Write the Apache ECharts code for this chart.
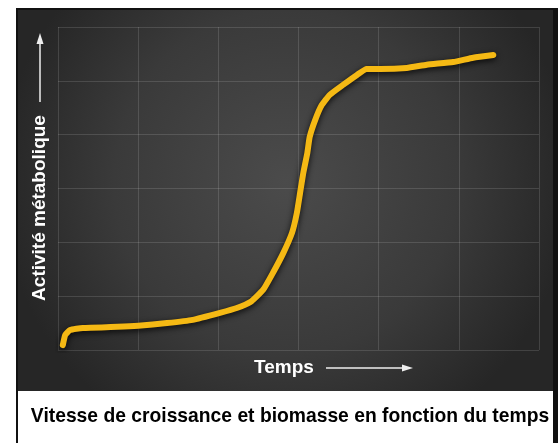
<!DOCTYPE html>
<html>
<head>
<meta charset="UTF-8">
<title>Vitesse de croissance</title>
<script src="https://cdn.jsdelivr.net/npm/echarts@6/dist/echarts.min.js"></script>
<style>
html, body { margin: 0; padding: 0; background: #fff; }
#chart { width: 558px; height: 443px; }
</style>
</head>
<body>
<div id="chart"></div>
<script>
// temps (unités de grille) et activité métabolique
var temps = [0.06, 0.09, 0.15, 0.31, 0.74, 1.0, 1.36, 1.68, 2.02, 2.23, 2.40, 2.56,
             2.68, 2.81, 2.92, 2.98, 3.02, 3.06, 3.11, 3.14, 3.21, 3.29, 3.39, 3.56,
             3.73, 3.85, 4.02, 4.35, 4.60, 4.93, 5.18, 5.43];
var activite = [0.09, 0.28, 0.37, 0.41, 0.43, 0.45, 0.50, 0.56, 0.69, 0.78, 0.89, 1.12,
                1.43, 1.80, 2.18, 2.55, 2.92, 3.29, 3.66, 3.96, 4.28, 4.55, 4.74, 4.93,
                5.11, 5.22, 5.22, 5.24, 5.30, 5.35, 5.43, 5.48];
var titre = 'Vitesse de croissance et biomasse en fonction du temps';
var labelX = 'Temps';
var labelY = 'Activité métabolique';

var points = temps.map(function (t, i) { return [t, activite[i]]; });

var chart = echarts.init(document.getElementById('chart'), null, { renderer: 'canvas' });

var gridLine = { show: true, lineStyle: { color: 'rgba(255,255,255,0.13)', width: 1 } };

chart.setOption({
    animation: false,
    textStyle: { fontFamily: 'Liberation Sans' },
    grid: { left: 58, top: 27, width: 481, height: 323 },
    xAxis: {
        type: 'value', min: 0, max: 6, interval: 1,
        axisLine: { show: false }, axisTick: { show: false }, axisLabel: { show: false },
        splitLine: gridLine
    },
    yAxis: {
        type: 'value', min: 0, max: 6, interval: 1,
        axisLine: { show: false }, axisTick: { show: false }, axisLabel: { show: false },
        splitLine: gridLine
    },
    graphic: [
        // cadre noir + fond sombre
        { type: 'rect', z: -10, shape: { x: 16, y: 8, width: 542, height: 435 },
          style: { fill: '#111' } },
        { type: 'rect', z: -9, shape: { x: 18, y: 10, width: 535, height: 433 },
          style: { fill: '#fff' } },
        { type: 'rect', z: -8, shape: { x: 18, y: 10, width: 535, height: 381 },
          style: { fill: new echarts.graphic.RadialGradient(0.5, 0.45, 0.75, [
              { offset: 0, color: '#4b4b4b' },
              { offset: 0.6, color: '#3a3a3a' },
              { offset: 1, color: '#262626' }
          ]) } },
        // titre
        { type: 'text', x: 290, y: 417,
          style: { text: titre, fill: '#000', font: 'bold 19.3px "Liberation Sans"',
                   align: 'center', verticalAlign: 'middle' } },
        // axe x
        { type: 'text', x: 284, y: 368,
          style: { text: labelX, fill: '#fff', font: 'bold 19px "Liberation Sans"',
                   align: 'center', verticalAlign: 'middle' } },
        { type: 'line', shape: { x1: 326, y1: 368, x2: 405, y2: 368 },
          style: { stroke: '#eee', lineWidth: 1.5 } },
        { type: 'polygon', shape: { points: [[413, 368], [402, 364.5], [402, 371.5]] },
          style: { fill: '#eee' } },
        // axe y
        { type: 'text', x: 40, y: 208, rotation: Math.PI / 2,
          style: { text: labelY, fill: '#fff', font: 'bold 19px "Liberation Sans"',
                   align: 'center', verticalAlign: 'middle' } },
        { type: 'line', shape: { x1: 40, y1: 102, x2: 40, y2: 42 },
          style: { stroke: '#eee', lineWidth: 1.5 } },
        { type: 'polygon', shape: { points: [[40, 33], [36.5, 44], [43.5, 44]] },
          style: { fill: '#eee' } }
    ],
    series: [{
        type: 'line',
        data: points,
        smooth: 0.15,
        showSymbol: false,
        lineStyle: {
            color: '#f5b914', width: 6, cap: 'round', join: 'round',
            shadowColor: 'rgba(0,0,0,0.85)', shadowBlur: 6, shadowOffsetY: 2
        }
    }]
});
</script>
</body>
</html>
